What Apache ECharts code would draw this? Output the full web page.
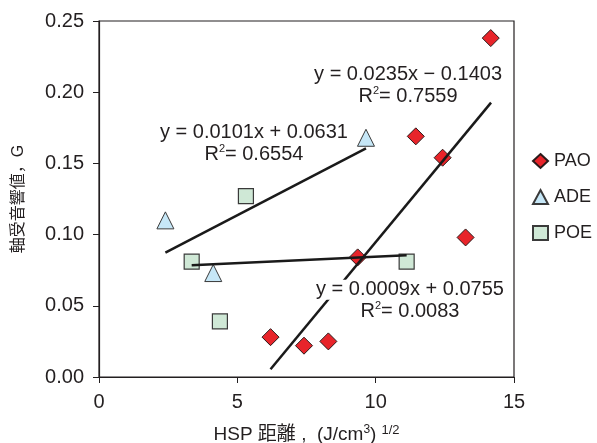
<!DOCTYPE html>
<html><head><meta charset="utf-8">
<script src="https://cdn.jsdelivr.net/npm/echarts@6/dist/echarts.min.js"></script>
<style>html,body{margin:0;padding:0;background:#fff}#c{width:597px;height:443px}</style>
</head><body><div id="c"></div>
<script>
// ---- data ----
var seriesNames = ['PAO', 'ADE', 'POE'];
var paoPoints = [[14.16, 0.238], [11.45, 0.169], [12.42, 0.154], [9.35, 0.084], [13.25, 0.098], [6.2, 0.028], [7.41, 0.022], [8.29, 0.025]];
var adePoints = [[2.4, 0.110], [4.13, 0.073], [9.65, 0.168]];
var poePoints = [[5.31, 0.127], [3.35, 0.081], [4.37, 0.039], [11.12, 0.081]];
// trend lines (endpoints as drawn)
var paoFit = [[6.2, 0.0054], [14.17, 0.1927]];
var adeFit = [[2.4, 0.0873], [9.65, 0.1606]];
var poeFit = [[3.35, 0.0785], [11.12, 0.0855]];
// equation texts
var paoEq = ['y = 0.0235x − 0.1403', '0.7559'];
var adeEq = ['y = 0.0101x + 0.0631', '0.6554'];
var poeEq = ['y = 0.0009x + 0.0755', '0.0083'];
var xTicks = [0, 5, 10, 15];
var yTicks = ['0.00', '0.05', '0.10', '0.15', '0.20', '0.25'];

var FONT = '"Liberation Sans", Arial, "Noto Sans CJK JP", sans-serif';
var TXT = '#231f20';
var chart = echarts.init(document.getElementById('c'), null, {renderer: 'canvas'});

function eqSeries(eq, pos, bg) {
  var b = bg ? '#fff' : 'transparent';
  return {
    type: 'scatter', symbol: 'circle', symbolSize: 1, z: 10, silent: true,
    itemStyle: {color: 'rgba(0,0,0,0)', opacity: 1},
    data: [pos],
    label: {
      show: true, position: 'inside',
      formatter: '{t|' + eq[0] + '}\n{t|R}{sup|2}{t|= ' + eq[1] + '}',
      fontFamily: FONT, fontSize: 20, color: TXT, lineHeight: 22, align: 'center', verticalAlign: 'middle',
      rich: {
        t: {fontSize: 20, lineHeight: 22, fontFamily: FONT, color: TXT, backgroundColor: b},
        sup: {fontSize: 11, verticalAlign: 'top', lineHeight: 22, padding: [0, 0, 10, 0], fontFamily: FONT, color: TXT, backgroundColor: b}
      }
    }
  };
}
function fitSeries(d) {
  return {type: 'line', data: d, symbol: 'none', z: 5, silent: true,
    lineStyle: {color: '#1a1a1a', width: 2.5}};
}

var option = {
  animation: false,
  backgroundColor: '#fff',
  textStyle: {fontFamily: FONT},
  grid: {left: 99, right: 83, top: 21, bottom: 66, show: true, borderColor: '#231f20', borderWidth: 1.2,
    containLabel: false, outerBoundsMode: 'none'},
  legend: {
    data: [
      {name: 'PAO', icon: 'diamond'},
      {name: 'ADE', icon: 'triangle'},
      {name: 'POE', icon: 'rect'}
    ],
    orient: 'vertical', left: 527, top: 147, itemWidth: 15, itemHeight: 14, itemGap: 18,
    textStyle: {fontFamily: FONT, fontSize: 18, color: TXT, padding: [0, 0, 0, 1]}
  },
  xAxis: {
    type: 'value', min: 0, max: 15, interval: 5,
    name: 'HSP 距離 ,  (J/cm{s|3}){s2|1/2}', nameLocation: 'middle', nameGap: 47,
    nameTextStyle: {fontFamily: FONT, fontSize: 19, color: TXT,
      rich: {s: {fontSize: 12, verticalAlign: 'top', padding: [0, 0, 9, 0], color: TXT, fontFamily: FONT},
             s2: {fontSize: 13, verticalAlign: 'top', padding: [0, 0, 9, 5], color: TXT, fontFamily: FONT}}},
    axisLine: {lineStyle: {color: '#231f20', width: 1.2}},
    axisTick: {show: true, length: 6, lineStyle: {color: '#231f20'}},
    axisLabel: {fontFamily: FONT, fontSize: 20, color: TXT, margin: 15,
      formatter: function (v) { return xTicks.indexOf(v) >= 0 ? String(v) : ''; }},
    splitLine: {show: false}
  },
  yAxis: {
    type: 'value', min: 0, max: 0.25, interval: 0.05,
    name: '軸受音響値，G', nameLocation: 'middle', nameGap: 72, nameRotate: 90,
    nameTextStyle: {fontFamily: FONT, fontSize: 16, color: TXT},
    axisLine: {show: true, lineStyle: {color: '#231f20', width: 1.2}},
    axisTick: {show: true, length: 6, lineStyle: {color: '#231f20'}},
    axisLabel: {fontFamily: FONT, fontSize: 20, color: TXT, margin: 15,
      formatter: function (v) { return yTicks[Math.round(v / 0.05)]; }},
    splitLine: {show: false}
  },
  series: [
    {name: 'PAO', type: 'scatter', data: paoPoints, symbol: 'diamond', symbolSize: 17, z: 3,
      itemStyle: {color: '#e8242a', borderColor: '#2a1a1a', borderWidth: 1, opacity: 1}},
    {name: 'ADE', type: 'scatter', data: adePoints, symbol: 'triangle', symbolSize: 17, z: 3,
      itemStyle: {color: '#c6e7f7', borderColor: '#3a3a3a', borderWidth: 1, opacity: 1}},
    {name: 'POE', type: 'scatter', data: poePoints, symbol: 'rect', symbolSize: 15, z: 3,
      itemStyle: {color: '#cfe8d6', borderColor: '#3a3a3a', borderWidth: 1.2, opacity: 1}},
    fitSeries(paoFit), fitSeries(adeFit), fitSeries(poeFit),
    eqSeries(paoEq, [11.17, 0.2044], false),
    eqSeries(adeEq, [5.6, 0.1638], false),
    eqSeries(poeEq, [11.24, 0.0535], true)
  ]
};
chart.setOption(option);
</script></body></html>
